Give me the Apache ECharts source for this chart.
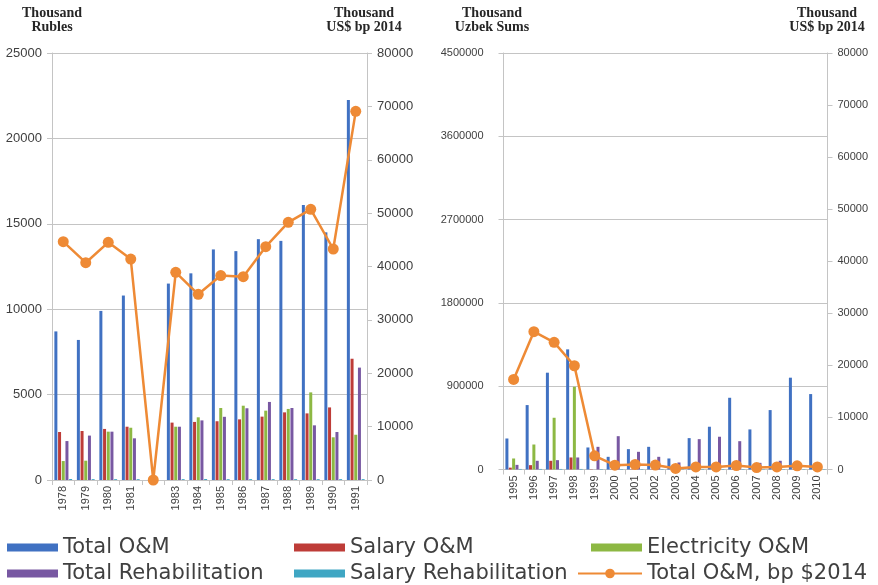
<!DOCTYPE html>
<html>
<head>
<meta charset="utf-8">
<script src="https://cdn.jsdelivr.net/npm/echarts@6/dist/echarts.min.js"></script>
<style>
html,body{margin:0;padding:0;background:#fff;}
#chart{width:878px;height:585px;}
</style>
</head>
<body>
<div id="chart"></div>
<script>
// ---- Left chart: Soviet period (Thousand Rubles / Thousand US$ bp 2014)
const leftCats = ['1978','1979','1980','1981','','1983','1984','1985','1986','1987','1988','1989','1990','1991'];
const leftTotalOM = [8700,8200,9900,10800,0,11500,12100,13500,13400,14100,14000,16100,14500,22250];
const leftSalaryOM = [2810,2870,2990,3120,0,3360,3400,3440,3550,3710,3960,3900,4250,7100];
const leftElecOM = [1110,1130,2830,3060,0,3120,3670,4215,4350,4060,4160,5130,2500,2650];
const leftTotalRehab = [2280,2600,2830,2440,0,3120,3490,3700,4200,4570,4215,3200,2810,6580];
const leftSalaryRehab = [60,50,50,50,0,50,60,50,50,50,50,50,50,50];
const leftTotalOMusd = [44650,40710,44530,41400,0,38900,34790,38300,38100,43720,48270,50710,43280,69070];

// ---- Right chart: Independence period (Thousand Uzbek Sums / Thousand US$ bp 2014)
const rightCats = ['1995','1996','1997','1998','1999','2000','2001','2002','2003','2004','2005','2006','2007','2008','2009','2010'];
const rightTotalOM = [335000,696000,1046000,1298000,238000,137000,220000,245000,119000,339000,462000,775000,433000,642000,992000,815000];
const rightSalaryOM = [20000,47000,94000,130000,3000,2000,3000,3000,2000,3000,3000,4000,3000,3000,3000,3000];
const rightElecOM = [119000,270000,559000,894000,0,0,0,0,0,0,0,0,0,0,0,0];
const rightTotalRehab = [50000,94000,101000,130000,245000,360000,191000,137000,76000,328000,354000,306000,72000,94000,0,0];
const rightSalaryRehab = [6000,6000,6000,6000,5000,5000,5000,5000,4000,5000,5000,5000,4000,4000,4000,4000];
const rightTotalOMusd = [17300,26470,24420,19930,2620,830,960,850,200,500,500,770,380,500,700,500];

const names = ['Total O&M','Salary O&M','Electricity O&M','Total Rehabilitation','Salary Rehabilitation','Total O&M, bp $2014'];
const colors = ['#4071C2','#BE3C38','#8DB843','#7858A2','#3FA6C3','#EE8A35'];

const gridCol = '#C4C4C4';
const txt = '#404040';

function barSeries(name, color, data, idx, bw, gap){
  return {name:name, type:'bar', xAxisIndex:idx, yAxisIndex:idx*2, data:data,
    barWidth:bw, barGap:gap, itemStyle:{color:color}, emphasis:{disabled:true}};
}
function lineSeries(data, idx){
  return {name:names[5], type:'line', xAxisIndex:idx, yAxisIndex:idx*2+1, data:data,
    symbol:'circle', symbolSize:11, clip:false,
    lineStyle:{color:colors[5], width:2.5}, itemStyle:{color:colors[5]}, emphasis:{disabled:true}};
}
function xAx(idx, cats){
  return {type:'category', gridIndex:idx, data:cats,
    axisLine:{lineStyle:{color:gridCol}}, axisTick:{show:true, length:5, lineStyle:{color:gridCol}, interval:0},
    axisLabel:{interval:0, rotate:90, fontSize:11, color:txt, fontFamily:'Liberation Sans', margin:6}};
}
function yAx(idx, max, interval, split, fs, margin){
  return {type:'value', gridIndex:idx, min:0, max:max, interval:interval,
    axisLine:{show:true, lineStyle:{color:gridCol}},
    axisTick:{show:true, length:5, lineStyle:{color:gridCol}},
    splitLine:{show:split, lineStyle:{color:gridCol, width:1}},
    axisLabel:{fontSize:fs, color:txt, fontFamily:'Liberation Sans', margin:margin,
      formatter:function(v){return String(v);}}};
}

const series = [];
const leftBars = [leftTotalOM,leftSalaryOM,leftElecOM,leftTotalRehab,leftSalaryRehab];
const rightBars = [rightTotalOM,rightSalaryOM,rightElecOM,rightTotalRehab,rightSalaryRehab];
leftBars.forEach((d,i)=>series.push(barSeries(names[i], colors[i], d, 0, 3, '23%')));
series.push(lineSeries(leftTotalOMusd, 0));
rightBars.forEach((d,i)=>series.push(barSeries(names[i], colors[i], d, 1, 3, '12%')));
series.push(lineSeries(rightTotalOMusd, 1));

const legendFont = {fontSize:21, color:txt, fontFamily:'DejaVu Sans'};
function lg(name, left, top, isLine){
  return {data:[name], left:left, top:top, orient:'horizontal', selectedMode:false,
    itemWidth: isLine ? 64 : 51, itemHeight: isLine ? 12 : 8, icon: isLine ? undefined : 'rect',
    itemGap:5, textStyle:legendFont, padding:0};
}

const titleFont = 'bold 14px "Liberation Serif"';

const option = {
  animation:false,
  backgroundColor:'#fff',
  grid:[
    {left:52, right:511, top:53, bottom:105},
    {left:503.5, right:50.5, top:53, bottom:115.5}
  ],
  xAxis:[xAx(0,leftCats), xAx(1,rightCats)],
  yAxis:[
    yAx(0,25000,5000,true,13,10),
    yAx(0,80000,10000,false,13,10),
    yAx(1,4500000,900000,true,11,20),
    yAx(1,80000,10000,false,11,10)
  ],
  legend:[
    lg(names[0], 7, 537, false),
    lg(names[1], 294, 537, false),
    lg(names[2], 591, 537, false),
    lg(names[3], 7, 563, false),
    lg(names[4], 294, 563, false),
    lg(names[5], 577, 563, true)
  ],
  graphic:[
    {type:'text', x:52, y:6, style:{text:'Thousand\nRubles', font:titleFont, fill:'#262626', align:'center', lineHeight:14}},
    {type:'text', x:364, y:6, style:{text:'Thousand\nUS$ bp 2014', font:titleFont, fill:'#262626', align:'center', lineHeight:14}},
    {type:'text', x:492, y:6, style:{text:'Thousand\nUzbek Sums', font:titleFont, fill:'#262626', align:'center', lineHeight:14}},
    {type:'text', x:827, y:6, style:{text:'Thousand\nUS$ bp 2014', font:titleFont, fill:'#262626', align:'center', lineHeight:14}}
  ],
  series:series
};

const chart = echarts.init(document.getElementById('chart'), null, {renderer:'canvas'});
chart.setOption(option);
</script>
</body>
</html>
